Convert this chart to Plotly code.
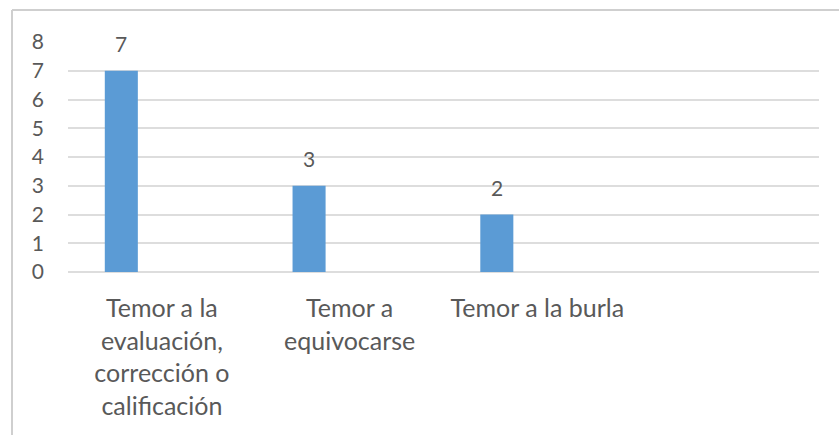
import plotly.graph_objects as go

# Categories and counts
categories = [
    "Temor a la<br>evaluación,<br>corrección o<br>calificación",
    "Temor a<br>equivocarse",
    "Temor a la burla",
    "",
]
values = [7, 3, 2, None]
y_ticks = [0, 1, 2, 3, 4, 5, 6, 7, 8]

W, H = 839, 435
L, R, T, B = 68, 20, 42, 163
pw, ph = W - L - R, H - T - B

text_color = "#595959"
font_family = "Lato, 'Open Sans', sans-serif"

fig = go.Figure()
fig.add_trace(go.Bar(
    x=categories,
    y=values,
    marker=dict(color="#5b9bd5", line=dict(width=0)),
    width=0.176,
    offset=-0.304,
    hoverinfo="x+y",
))

# Data labels above each bar
for c, v in zip(categories, values):
    if v is None:
        continue
    fig.add_annotation(
        x=c, y=v, xref="x", yref="y", text=str(v), showarrow=False,
        xshift=-40.5, yshift=27, font=dict(size=21, color=text_color, family=font_family),
    )

# Outer chart frame (top and left edges)
x0 = (12 - L) / pw
y0 = 1 + (T - 10) / ph
fig.add_shape(type="line", xref="paper", yref="paper", x0=x0, x1=(W - L) / pw + 0.01,
              y0=y0, y1=y0, line=dict(color="#cfcfcf", width=2))
fig.add_shape(type="line", xref="paper", yref="paper", x0=x0, x1=x0,
              y0=y0, y1=-(B + 5) / ph, line=dict(color="#cfcfcf", width=2))

fig.update_layout(
    width=W, height=H,
    margin=dict(l=L, r=R, t=T, b=B, pad=0),
    paper_bgcolor="white", plot_bgcolor="white",
    showlegend=False,
    font=dict(family=font_family, color=text_color, size=21),
)
fig.update_xaxes(
    type="category", range=[-0.5, 3.5], showgrid=False, showline=False,
    ticks="", tickfont=dict(size=25, color=text_color), ticklabelstandoff=19,
    fixedrange=True,
)
fig.update_yaxes(
    range=[0, 8], tickvals=y_ticks, showgrid=True, gridcolor="#dddddd", gridwidth=1.5,
    zeroline=True, zerolinecolor="#dddddd", zerolinewidth=1.5, showline=False, ticks="",
    tickfont=dict(size=21, color=text_color), ticklabelstandoff=23, fixedrange=True,
)

fig.write_html("out.html")
